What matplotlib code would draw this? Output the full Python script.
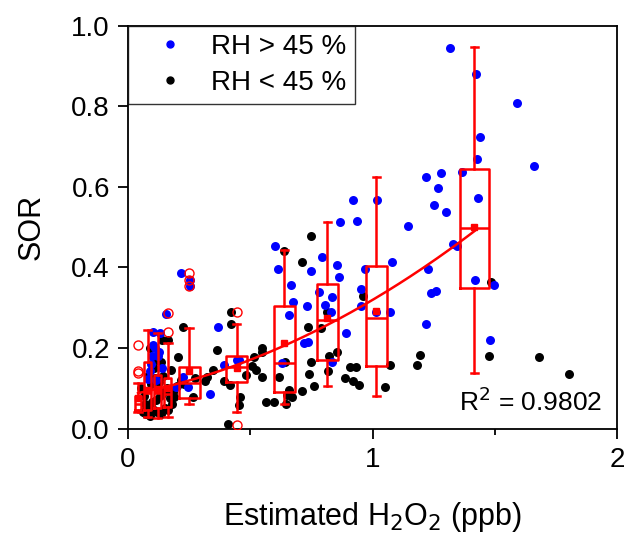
import numpy as np
import matplotlib
matplotlib.use("Agg")
import matplotlib.pyplot as plt
from matplotlib.lines import Line2D

plt.rcParams["font.family"] = ["Liberation Sans", "DejaVu Sans"]

# scatter points, RH > 45 %
hi_x = [1.317, 1.423, 1.589, 1.439, 1.427, 1.659, 1.220, 1.281, 1.366, 1.268,
        1.431, 1.252, 1.301, 1.146, 1.329, 1.346, 1.081, 1.228, 1.240, 1.260,
        1.419, 1.496, 1.073, 1.016, 1.220, 1.480, 1.018,
        0.919, 0.866, 0.935, 0.793, 0.854, 0.748, 0.862, 0.971, 0.667, 0.951,
        0.780, 0.833, 0.675, 0.732, 0.805, 0.951, 0.659, 0.829, 0.890, 0.720,
        0.736, 0.833, 0.615, 0.600, 0.630,
        0.370, 0.394, 0.455, 0.337, 0.447, 0.224,
        0.154, 0.102, 0.130, 0.102, 0.100, 0.122, 0.089, 0.080, 0.195, 0.244,
        0.215, 0.252, 0.252, 0.110, 0.140, 0.095, 0.115, 0.128]
hi_y = [0.945, 0.880, 0.808, 0.723, 0.670, 0.651, 0.624, 0.634, 0.636, 0.597,
        0.572, 0.555, 0.537, 0.502, 0.459, 0.452, 0.413, 0.396, 0.337, 0.342,
        0.369, 0.356, 0.289, 0.289, 0.259, 0.220, 0.567,
        0.567, 0.512, 0.516, 0.426, 0.405, 0.392, 0.377, 0.397, 0.356, 0.346,
        0.339, 0.327, 0.314, 0.303, 0.306, 0.305, 0.282, 0.289, 0.238, 0.211,
        0.214, 0.164, 0.395, 0.452, 0.163,
        0.253, 0.157, 0.171, 0.085, 0.170, 0.128,
        0.284, 0.239, 0.237, 0.207, 0.180, 0.180, 0.143, 0.123, 0.103, 0.103,
        0.386, 0.368, 0.353, 0.200, 0.150, 0.160, 0.120, 0.190]

# scatter points, RH < 45 %
lo_x = [1.194, 1.183, 1.476, 1.683, 1.805, 1.484, 1.073, 1.053,
        0.748, 0.638, 0.711, 0.963, 0.813, 0.736, 0.789, 0.854, 0.821, 0.748,
        0.642, 0.740, 0.817, 0.907, 0.931, 0.886, 0.919, 0.943, 0.760, 0.711,
        0.671, 0.646, 0.618, 0.650, 0.660,
        0.423, 0.423, 0.366, 0.549, 0.549, 0.516, 0.346, 0.508, 0.524, 0.325,
        0.313, 0.484, 0.394, 0.419, 0.549, 0.459, 0.455, 0.565, 0.598, 0.407,
        0.264, 0.272,
        0.224, 0.163, 0.203, 0.134, 0.175, 0.053, 0.190, 0.138, 0.089, 0.120,
        0.145, 0.060, 0.075, 0.090, 0.105, 0.120, 0.135, 0.150, 0.165, 0.180,
        0.070, 0.085, 0.100, 0.115, 0.130, 0.145, 0.160, 0.095, 0.110, 0.125,
        0.140, 0.155, 0.170, 0.185, 0.200, 0.215, 0.230, 0.065, 0.080, 0.105]
lo_y = [0.182, 0.158, 0.181, 0.178, 0.136, 0.363, 0.157, 0.104,
        0.477, 0.440, 0.413, 0.329, 0.288, 0.252, 0.250, 0.189, 0.179, 0.166,
        0.164, 0.136, 0.143, 0.153, 0.153, 0.125, 0.118, 0.109, 0.106, 0.092,
        0.079, 0.062, 0.128, 0.083, 0.095,
        0.290, 0.260, 0.194, 0.200, 0.189, 0.178, 0.146, 0.155, 0.146, 0.127,
        0.117, 0.133, 0.117, 0.107, 0.127, 0.079, 0.059, 0.067, 0.067, 0.010,
        0.079, 0.125,
        0.251, 0.220, 0.178, 0.165, 0.146, 0.101, 0.079, 0.220, 0.200, 0.170,
        0.130, 0.040, 0.035, 0.030, 0.045, 0.040, 0.035, 0.050, 0.045, 0.060,
        0.060, 0.055, 0.065, 0.070, 0.080, 0.090, 0.100, 0.110, 0.125, 0.115,
        0.085, 0.095, 0.075, 0.090, 0.105, 0.120, 0.110, 0.080, 0.130, 0.150]

# box statistics per H2O2 bin
box_pos = [0.041, 0.081, 0.122, 0.163, 0.250, 0.445, 0.640, 0.815, 1.016, 1.417]
box_w = [0.028, 0.028, 0.028, 0.028, 0.085, 0.085, 0.085, 0.085, 0.085, 0.118]
q1 = [0.046, 0.046, 0.051, 0.053, 0.075, 0.115, 0.091, 0.170, 0.155, 0.349]
q3 = [0.081, 0.165, 0.133, 0.125, 0.152, 0.180, 0.304, 0.359, 0.403, 0.644]
med = [0.062, 0.088, 0.088, 0.085, 0.112, 0.153, 0.163, 0.269, 0.274, 0.497]
mean = [0.075, 0.095, 0.098, 0.100, 0.143, 0.150, 0.212, 0.274, 0.292, 0.500]
wlo = [0.040, 0.029, 0.026, 0.029, 0.060, 0.041, 0.061, 0.105, 0.081, 0.138]
whi = [0.113, 0.244, 0.237, 0.212, 0.249, 0.259, 0.443, 0.512, 0.624, 0.947]
fliers = [[0.207, 0.143, 0.138], [], [], [0.287, 0.240], [0.386, 0.368, 0.353],
          [0.289, 0.009], [], [], [], []]

fig = plt.figure(figsize=(6.25, 5.37), dpi=100)
ax = fig.add_axes([0.2048, 0.2020, 0.7824, 0.7505])

ax.scatter(lo_x, lo_y, s=42, color="black", lw=0, zorder=2)
ax.scatter(hi_x, hi_y, s=42, color="blue", lw=0, zorder=2)

stats = []
for i in range(len(box_pos)):
    stats.append(dict(med=med[i], q1=q1[i], q3=q3[i], whislo=wlo[i],
                      whishi=whi[i], mean=mean[i], fliers=fliers[i]))
red = dict(color="red", lw=1.8)
ax.bxp(stats, positions=box_pos, widths=box_w, showmeans=True,
       boxprops=red, whiskerprops=red, capprops=red, medianprops=red,
       meanprops=dict(marker="s", markerfacecolor="red", markeredgecolor="red",
                      markersize=5),
       flierprops=dict(marker="o", markerfacecolor="none", markeredgecolor="red",
                       markersize=6.5, markeredgewidth=1),
       capwidths=0.03, manage_ticks=False, zorder=3)

# quadratic fit through the bin means
coef = np.polyfit(box_pos, mean, 2)
xf = np.linspace(box_pos[0], box_pos[-1], 200)
ax.plot(xf, np.polyval(coef, xf), color="red", lw=1.8, zorder=3)

ax.set_xlim(0, 2)
ax.set_ylim(0, 1)
ax.set_xticks([0, 1, 2])
ax.set_xticks([0.5, 1.5], minor=True)
ax.set_yticks(np.arange(0, 1.01, 0.2))
ax.set_yticklabels(["0.0", "0.2", "0.4", "0.6", "0.8", "1.0"])
ax.tick_params(which="major", direction="out", length=7, width=1.3,
               labelsize=20, pad=6)
ax.tick_params(which="minor", direction="out", length=4, width=1.3)
for s in ax.spines.values():
    s.set_linewidth(1.3)

ax.set_xlabel("Estimated H$_2$O$_2$ (ppb)", fontsize=22, labelpad=20)
ax.set_ylabel("SOR", fontsize=22, labelpad=18)

ax.text(0.97, 0.03, "R$^2$ = 0.9802", transform=ax.transAxes, ha="right",
        va="bottom", fontsize=19)

handles = [Line2D([], [], ls="none", marker="o", color="blue", markersize=5),
           Line2D([], [], ls="none", marker="o", color="black", markersize=5)]
leg = ax.legend(handles, ["RH > 45 %", "RH < 45 %"], loc="upper left",
                fontsize=20, frameon=True, fancybox=False, borderaxespad=0,
                handletextpad=0.3, labelspacing=0.35, borderpad=0.3,
                handlelength=2.4)
leg.get_frame().set_edgecolor("black")
leg.get_frame().set_linewidth(1.0)

fig.savefig("out.png", dpi=100)
